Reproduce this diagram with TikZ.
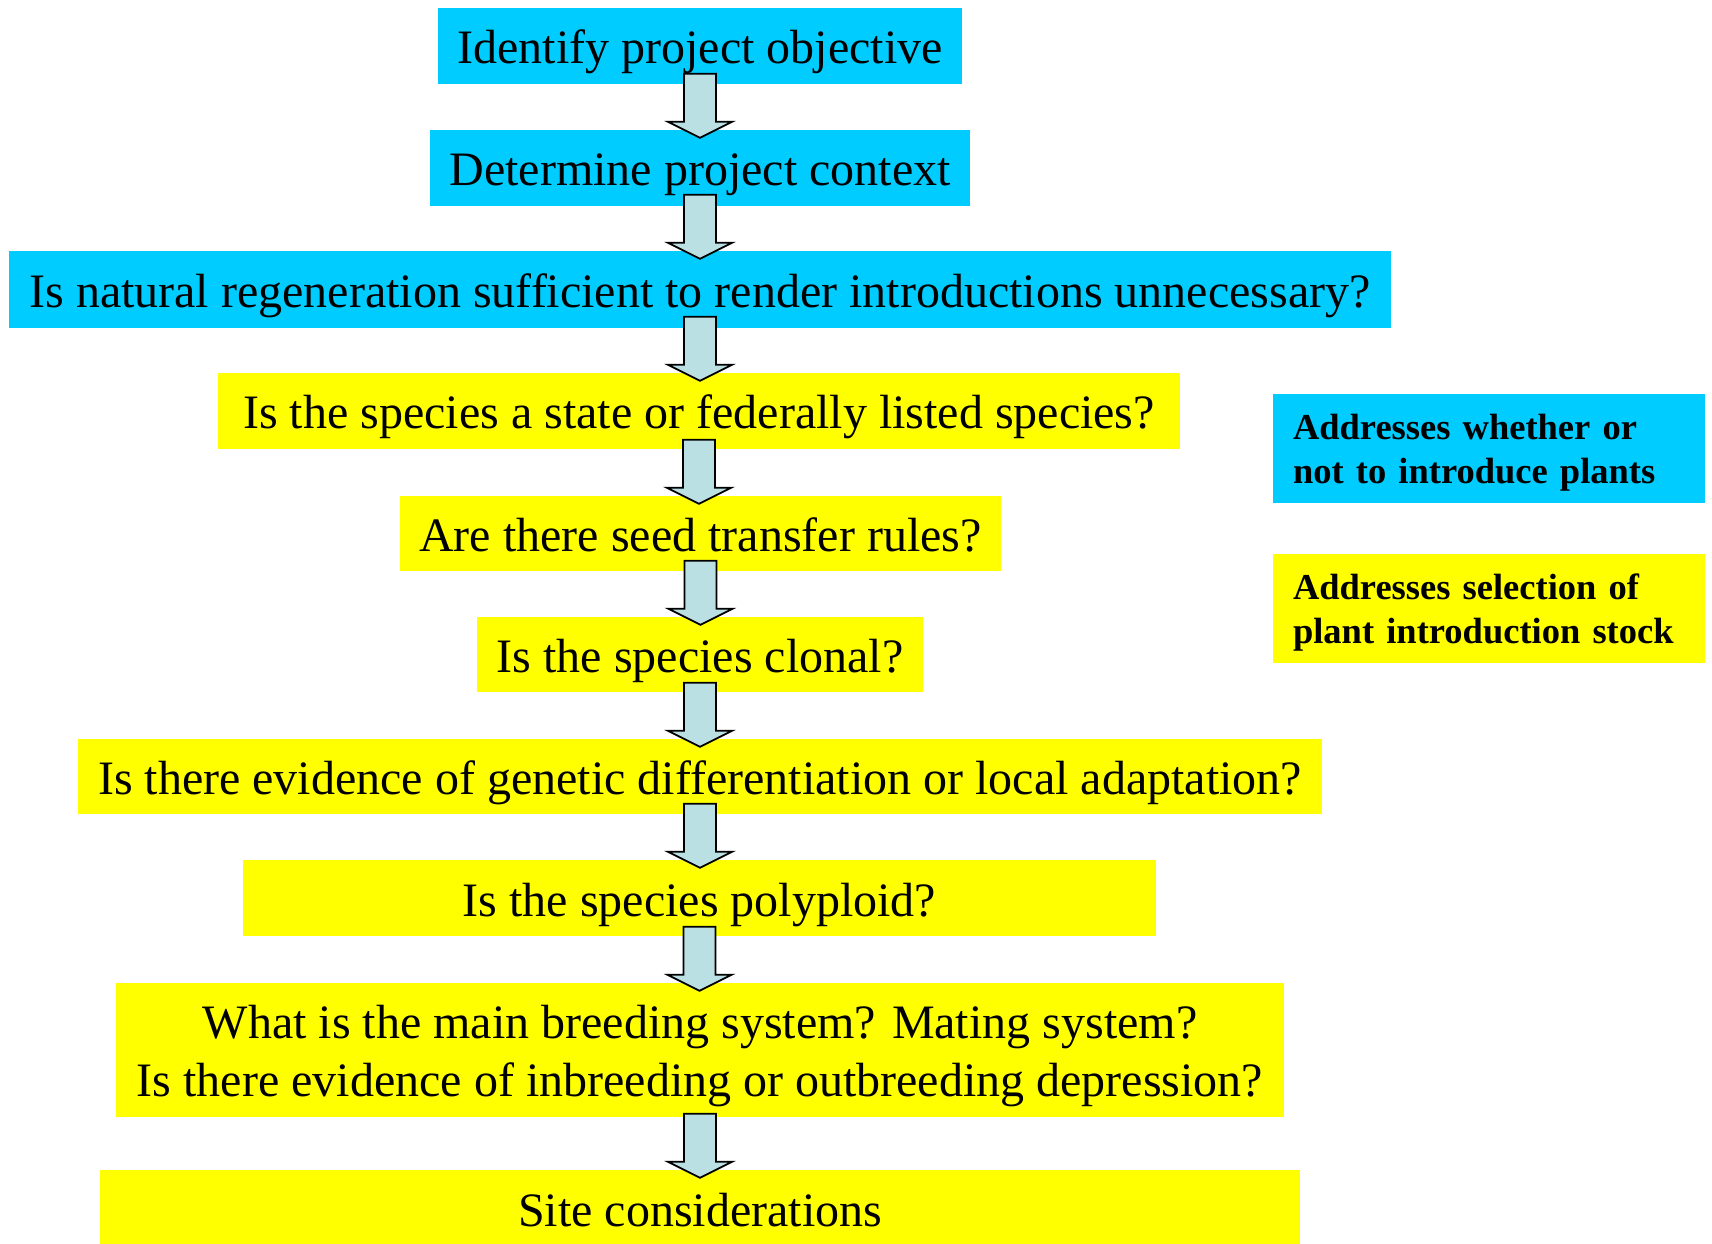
\documentclass[tikz,border=0pt]{standalone}
\usepackage{fontspec}
\setmainfont{Liberation Serif}
\usetikzlibrary{calc,backgrounds}
\definecolor{cyanbox}{RGB}{0,204,255}
\definecolor{yellowbox}{RGB}{255,255,0}
\definecolor{arrowfill}{RGB}{187,224,227}
\tikzset{
  stepbox/.style={rectangle, inner sep=0pt, font=\fontsize{48}{58}\selectfont, align=center, minimum height=76pt, text height=36pt, text depth=0pt},
  legendbox/.style={rectangle, inner xsep=20pt, inner ysep=0pt, font=\fontsize{36.5}{44}\selectfont\bfseries, text width=392pt, align=left, minimum width=432pt, minimum height=109pt, text height=27pt, text depth=44pt},
  bigarrow/.style={draw=black, line width=1.8pt, fill=arrowfill, line join=miter},
}
\newcommand\boxfill[2]{\fill[#2] (#1.south west) rectangle (#1.north east);}
\newcommand\blockarrow[2]{%
  \draw[bigarrow] let \p1=(#1.south), \p2=(#2.north) in
  (\x1-16pt,\y2+56pt) -- (\x1+16pt,\y2+56pt) -- (\x1+16pt,\y2+8pt) -- (\x1+32pt,\y2+8pt)
  -- (\x1,\y2-8pt) -- (\x1-32pt,\y2+8pt) -- (\x1-16pt,\y2+8pt) -- cycle;}
\begin{document}
\begin{tikzpicture}[x=1pt,y=1pt]
\useasboundingbox (0,0) rectangle (1712,1243);
\node[stepbox, minimum width=524pt] (n1) at (700,1197) {Identify project objective};
\node[stepbox, minimum width=539pt] (n2) at (700,1075) {Determine project context};
\node[stepbox, minimum width=1382pt, minimum height=77pt] (n3) at (700,953.5) {Is natural regeneration sufficient to render introductions unnecessary?};
\node[stepbox, minimum width=962pt] (n4) at (699,832) {Is the species a state or federally listed species?};
\node[stepbox, minimum width=601pt, minimum height=75pt] (n5) at (700.5,709.5) {Are there seed transfer rules?};
\node[stepbox, minimum width=446pt, minimum height=75pt] (n6) at (700,588.5) {Is the species clonal?};
\node[stepbox, minimum width=1244pt, minimum height=75pt] (n7) at (700,466.5) {Is there evidence of genetic differentiation or local adaptation?};
\node[stepbox, minimum width=913pt] (n8) at (699.5,345) {Is the species polyploid?};
\node[stepbox, minimum width=1168pt, minimum height=134pt, text height=100pt, text depth=8pt] (n9) at (700,193) {What is the main breeding system? Mating system?\\Is there evidence of inbreeding or outbreeding depression?};
\node[stepbox, minimum width=1200pt] (n10) at (700,35) {Site considerations};
\node[legendbox] (l1) at (1489,794.5) {Addresses whether or\\not to introduce plants};
\node[legendbox] (l2) at (1489,634.5) {Addresses selection of\\plant introduction stock};
\begin{scope}[on background layer]
  \boxfill{n1}{cyanbox}
  \boxfill{n2}{cyanbox}
  \boxfill{n3}{cyanbox}
  \boxfill{n4}{yellowbox}
  \boxfill{n5}{yellowbox}
  \boxfill{n6}{yellowbox}
  \boxfill{n7}{yellowbox}
  \boxfill{n8}{yellowbox}
  \boxfill{n9}{yellowbox}
  \boxfill{n10}{yellowbox}
  \boxfill{l1}{cyanbox}
  \boxfill{l2}{yellowbox}
  \blockarrow{n1}{n2}
  \blockarrow{n2}{n3}
  \blockarrow{n3}{n4}
  \blockarrow{n4}{n5}
  \blockarrow{n5}{n6}
  \blockarrow{n6}{n7}
  \blockarrow{n7}{n8}
  \blockarrow{n8}{n9}
  \blockarrow{n9}{n10}
\end{scope}
\end{tikzpicture}
\end{document}
